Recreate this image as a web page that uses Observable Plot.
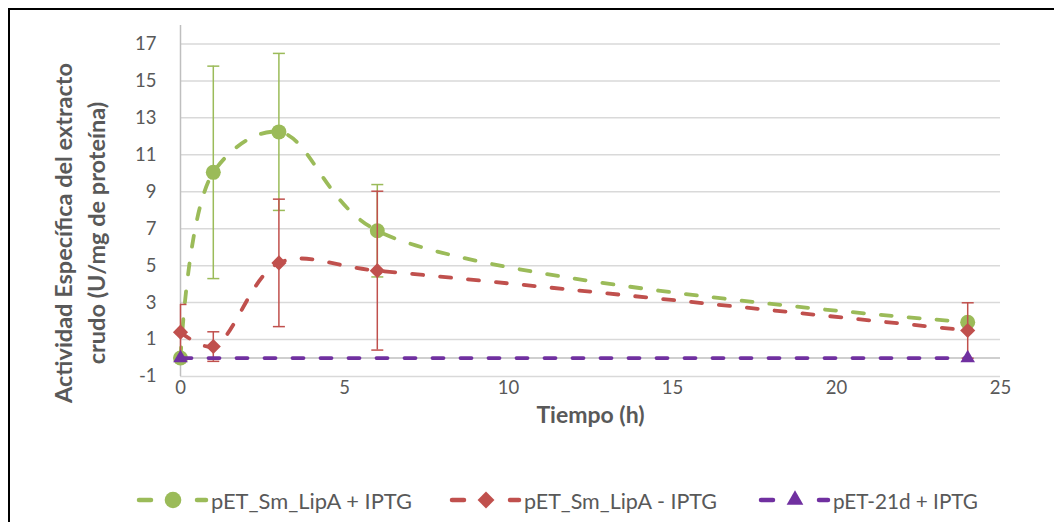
<!DOCTYPE html>
<html><head><meta charset="utf-8">
<script src="https://cdn.jsdelivr.net/npm/d3@7"></script>
<script src="https://cdn.jsdelivr.net/npm/@observablehq/plot@0.6"></script>
<style>
body{margin:0;background:#fff;font-family:Lato,sans-serif;}
#wrap{position:relative;width:1054px;height:522px;overflow:hidden;background:#fff;}
#frame{position:absolute;left:8px;top:8px;width:1200px;height:700px;border:2px solid #000;box-sizing:border-box;pointer-events:none;}
#chart{position:absolute;left:0;top:0;}
#legend{position:absolute;left:0;top:485px;width:1054px;height:30px;}
.item{position:absolute;top:0;height:30px;display:flex;align-items:center;color:#595959;font-size:21px;white-space:nowrap;}
.item span{display:inline-block;transform-origin:0 50%;}
</style></head><body>
<div id="wrap"><div id="chart"></div><div id="legend"></div><div id="frame"></div></div>
<script>
// ---- data ----
const times = [0, 1, 3, 6, 24];
const seriesNames = ["pET_Sm_LipA + IPTG", "pET_Sm_LipA - IPTG", "pET-21d + IPTG"];
const seriesColors = ["#9BBB59", "#C0504D", "#7030A0"];
const greenValues = [0.0, 10.05, 12.24, 6.89, 1.94];
const greenErrors = [0, 5.75, 4.25, 2.5, 0];
const redValues = [1.4, 0.62, 5.15, 4.73, 1.49];
const redErrors = [1.5, 0.8, 3.45, 4.3, 1.5];
const purpleTimes = [0, 24];
const purpleValues = [0, 0];
const xTicks = [0, 5, 10, 15, 20, 25];
const yTicks = [-1, 1, 3, 5, 7, 9, 11, 13, 15, 17];
const xTitle = "Tiempo (h)";
const yTitle1 = "Actividad Específica del extracto";
const yTitle2 = "crudo (U/mg de proteína)";

const green = times.map((t, i) => ({t, v: greenValues[i], e: greenErrors[i]}));
const red = times.map((t, i) => ({t, v: redValues[i], e: redErrors[i]}));
const purple = purpleTimes.map((t, i) => ({t, v: purpleValues[i], e: 0}));

const capSymbol = {draw(ctx) { ctx.moveTo(-6, 0); ctx.lineTo(6, 0); }};
const markSymbols = ["circle", "diamond2", "triangle"];
const markR = [7.5, 6.8, 5.4];

function seriesMarks(data, k) {
  const color = seriesColors[k];
  const withErr = data.filter(d => d.e > 0);
  const caps = withErr.flatMap(d => [{t: d.t, y: d.v + d.e}, {t: d.t, y: d.v - d.e}]);
  return [
    Plot.ruleX(withErr, {x: "t", y1: d => d.v - d.e, y2: d => d.v + d.e, stroke: color, strokeWidth: 1.5}),
    Plot.dot(caps, {x: "t", y: "y", symbol: capSymbol, stroke: color, strokeWidth: 1.5, clip: true}),
    Plot.line(data, {x: "t", y: "v", curve: "catmull-rom", stroke: color, strokeWidth: 3.8,
      strokeDasharray: "11,17", strokeLinecap: "round"}),
    Plot.dot(data, {x: "t", y: "v", symbol: markSymbols[k], r: markR[k], fill: color, stroke: "none"})
  ];
}

const chart = Plot.plot({
  width: 1054, height: 470,
  marginLeft: 180, marginRight: 54, marginTop: 25, marginBottom: 94,
  style: {fontFamily: "Lato, sans-serif", fontSize: "18px", color: "#595959", background: "transparent"},
  x: {domain: [0, 25]},
  y: {domain: [-1, 18]},
  marks: [
    Plot.gridY(yTicks, {stroke: "#d9d9d9", strokeOpacity: 1, strokeWidth: 1.5}),
    Plot.ruleY([0], {stroke: "#bfbfbf", strokeWidth: 1.5}),
    Plot.ruleX([0], {stroke: "#bfbfbf", strokeWidth: 1.5}),
    Plot.axisX({ticks: xTicks, tickFormat: d => String(d), tickSize: 0, tickPadding: 4, label: null, fill: "#595959", fontSize: 18.5}),
    Plot.axisY({ticks: yTicks, tickFormat: d => String(d), tickSize: 0, tickPadding: 24, label: null, fill: "#595959", fontSize: 18.5}),
    ...seriesMarks(green, 0),
    ...seriesMarks(red, 1),
    ...seriesMarks(purple, 2),
    Plot.text([xTitle], {frameAnchor: "bottom", dy: 46, fontWeight: "bold", fontSize: 23, fill: "#595959"}),
    Plot.text([yTitle1], {frameAnchor: "left", textAnchor: "middle", dx: -116, dy: 32, rotate: -90, fontWeight: "bold", fontSize: 23.5, fill: "#595959"}),
    Plot.text([yTitle2], {frameAnchor: "left", textAnchor: "middle", dx: -83, dy: 32, rotate: -90, fontWeight: "bold", fontSize: 23.5, fill: "#595959"})
  ]
});
document.getElementById("chart").appendChild(chart);

// ---- legend ----
const legendLeft = [135, 448, 757];
const legendTextWidth = [201, 193, 145];
const symPaths = [
  d3.symbol(d3.symbolCircle, Math.PI * 8.3 * 8.3)(),
  d3.symbol(d3.symbolDiamond2, Math.PI * 7.6 * 7.6)(),
  d3.symbol(d3.symbolTriangle, Math.PI * 6.2 * 6.2)()
];
const legend = document.getElementById("legend");
seriesNames.forEach((name, k) => {
  const div = document.createElement("div");
  div.className = "item";
  div.style.left = legendLeft[k] + "px";
  div.innerHTML = `<svg width="76" height="30"><line x1="4" y1="15" x2="16" y2="15" stroke="${seriesColors[k]}" stroke-width="4.5" stroke-linecap="round"/>` +
    `<path transform="translate(38,15)" d="${symPaths[k]}" fill="${seriesColors[k]}"/>` +
    `<line x1="62" y1="15" x2="71" y2="15" stroke="${seriesColors[k]}" stroke-width="4.5" stroke-linecap="round"/></svg><span>${name}</span>`;
  legend.appendChild(div);
  const span = div.querySelector("span");
  const w = span.getBoundingClientRect().width;
  span.style.transform = `scaleX(${legendTextWidth[k] / w})`;
});
</script>
</body></html>
